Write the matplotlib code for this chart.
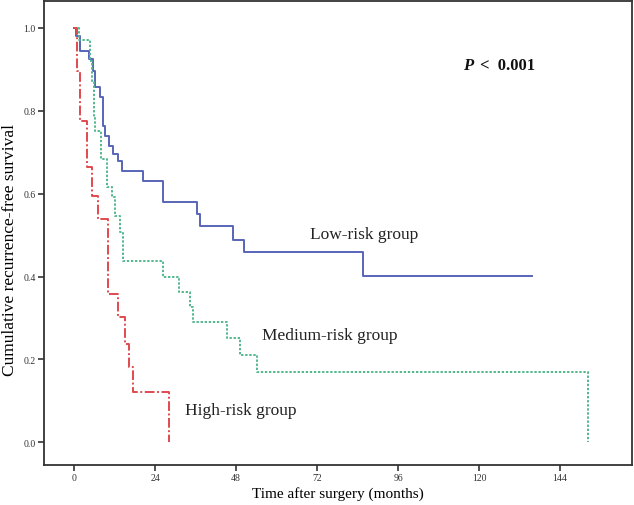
import matplotlib
matplotlib.use("Agg")
import matplotlib.pyplot as plt

# Kaplan-Meier step data (months, survival)
low_t = [0, 0.5, 1.8, 4.4, 5.6, 6.2, 7.7, 8.6, 9.2, 10.4, 11.6, 13.0, 14.2, 20.4, 26.4, 36.4, 37.3, 47.1, 50.4, 85.6, 135.7]
low_s = [1.0, 0.98, 0.944, 0.925, 0.896, 0.857, 0.833, 0.763, 0.739, 0.715, 0.696, 0.679, 0.655, 0.630, 0.580, 0.551, 0.522, 0.488, 0.459, 0.401, 0.401]

med_t = [0, 1.5, 4.7, 5.3, 5.9, 6.2, 8.0, 9.8, 11.3, 12.1, 13.6, 14.5, 26.4, 31.1, 34.4, 35.3, 45.3, 49.2, 54.2, 152.3]
med_s = [1.0, 0.97, 0.920, 0.872, 0.785, 0.751, 0.684, 0.616, 0.592, 0.546, 0.507, 0.437, 0.399, 0.362, 0.326, 0.290, 0.251, 0.210, 0.169, 0.0]

high_t = [0, 0.9, 1.0, 1.8, 3.9, 5.3, 7.1, 10.1, 13.0, 15.1, 16.3, 17.5, 28.1]
high_s = [1.0, 0.957, 0.896, 0.775, 0.664, 0.594, 0.539, 0.357, 0.302, 0.237, 0.181, 0.121, 0.0]

x_ticks = [0, 24, 48, 72, 96, 120, 144]
y_ticks = [0.0, 0.2, 0.4, 0.6, 0.8, 1.0]
group_labels = ["Low-risk group", "Medium-risk group", "High-risk group"]

plt.rcParams['font.family'] = ['Liberation Serif', 'DejaVu Serif']

fig = plt.figure(figsize=(6.34, 5.06), dpi=100)
ax = fig.add_axes([44/634, 1-466/506, (632-44)/634, (466-2)/506])

ax.step(low_t, low_s, where='post', color='#5865b8', lw=1.4)
ax.step(med_t, med_s, where='post', color='#52b88e', lw=1.4, linestyle=(0, (1.2, 0.9)))
ax.step(high_t, high_s, where='post', color='#e04a4f', lw=1.4, linestyle=(0, (5, 1.3, 1, 1.3)))

ax.set_xlim(-8.9, 165.3)
ax.set_ylim(-0.055, 1.065)
ax.set_xticks(x_ticks)
ax.set_xticklabels([str(t) for t in x_ticks])
ax.set_yticks(y_ticks)
ax.set_yticklabels([f"{v:.1f}" for v in y_ticks])
ax.tick_params(axis='both', direction='out', length=4, width=1.2, labelsize=7, colors='#333333', pad=2)
for sp in ax.spines.values():
    sp.set_linewidth(1.3)
    sp.set_color('#333333')

ax.set_xlabel("Time after surgery (months)", fontsize=11, labelpad=3)
ax.set_ylabel("Cumulative recurrence-free survival", fontsize=12.5)
ax.yaxis.set_label_coords(-0.044, 0.465)

def px2data(x, y):
    return ((x - 74) / 3.375, (443 - y) / 414)

for label, (px, py) in zip(group_labels, [(310, 235), (262, 336), (185, 411)]):
    dx, dy = px2data(px, py)
    ax.text(dx, dy, label, fontsize=12.5, ha='left', va='center', color='#222222')

dx, dy = px2data(463, 66)
ax.text(dx, dy, "P", fontsize=12, fontweight='bold', style='italic',
        ha='left', va='center', color='#111111')
dx2, _ = px2data(480, 66)
ax.text(dx2, dy, "<  0.001", fontsize=12, fontweight='bold', ha='left', va='center', color='#111111')

fig.savefig("out.png", dpi=100)
